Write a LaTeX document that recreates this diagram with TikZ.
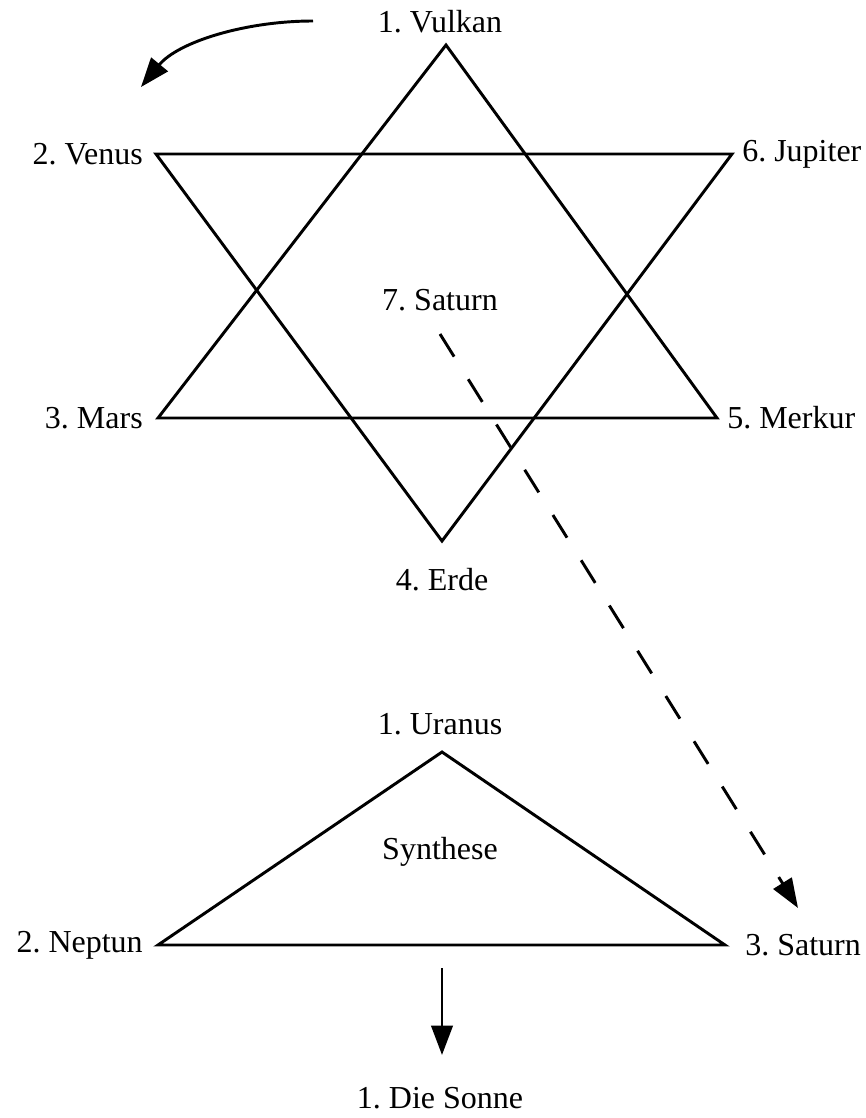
\documentclass[tikz,border=0pt]{standalone}
\usepackage{fontspec}
\setmainfont{Liberation Serif}
\usetikzlibrary{arrows.meta}

\begin{document}
\frenchspacing
\begin{tikzpicture}[
    x=0.75pt, y=-0.75pt,
    planet/.style={font=\fontsize{24}{28}\selectfont\frenchspacing, inner sep=0pt},
    edge/.style={line width=2.2pt, line join=miter},
    arrow/.style={line width=2.2pt, -{Triangle[length=22pt, width=16pt]}},
    dasharrow/.style={arrow, dash pattern=on 20pt off 20pt},
]
\useasboundingbox (0,0) rectangle (865,1118);

% Star vertices
\coordinate (vulkan) at (446,45);
\coordinate (mars) at (158,418);
\coordinate (merkur) at (717,418);
\coordinate (venus) at (156,154);
\coordinate (jupiter) at (732,154);
\coordinate (erde) at (442,541);

% Star
\draw[edge] (vulkan) -- (mars) -- (merkur) -- cycle;
\draw[edge] (venus) -- (jupiter) -- (erde) -- cycle;

% Star labels
\node[planet] (vulkanlbl) at (440,22) {1. Vulkan};
\node[planet, anchor=east] (venuslbl) at (143,154) {2. Venus};
\node[planet, anchor=west] (jupiterlbl) at (742,154) {6. Jupiter};
\node[planet] (saturnlbl) at (440,300) {7. Saturn};
\node[planet, anchor=east] (marslbl) at (143,418) {3. Mars};
\node[planet, anchor=west] (merkurlbl) at (727,418) {5. Merkur};
\node[planet] (erdelbl) at (442,580) {4. Erde};

% Rotation arrow
\coordinate (turnstart) at (313,21);
\coordinate (turnend) at (141,87);
\draw[arrow] (turnstart) .. controls (245,21) and (178,42) .. (turnend);

% Triangle
\coordinate (uranus) at (442,752);
\coordinate (neptun) at (158,945);
\coordinate (saturn) at (725,945);
\draw[edge] (uranus) -- (neptun) -- (saturn) -- cycle;

% Triangle labels
\node[planet] (uranuslbl) at (440,724) {1. Uranus};
\node[planet] (synthlbl) at (440,852) {Synthese};
\node[planet, anchor=east] (neptunlbl) at (143,945) {2. Neptun};
\node[planet, anchor=west] (saturn3lbl) at (745,945) {3. Saturn};
\node[planet] (sonnelbl) at (440,1098) {1. Die Sonne};

% Saturn moves down
\coordinate (dashstart) at (440,334);
\coordinate (dashend) at (798,908);
\draw[dasharrow] (dashstart) -- (dashend);

% Down to the sun
\coordinate (sunstart) at (442,968);
\coordinate (sunend) at (442,1055);
\draw[arrow] (sunstart) -- (sunend);

\end{tikzpicture}
\end{document}
